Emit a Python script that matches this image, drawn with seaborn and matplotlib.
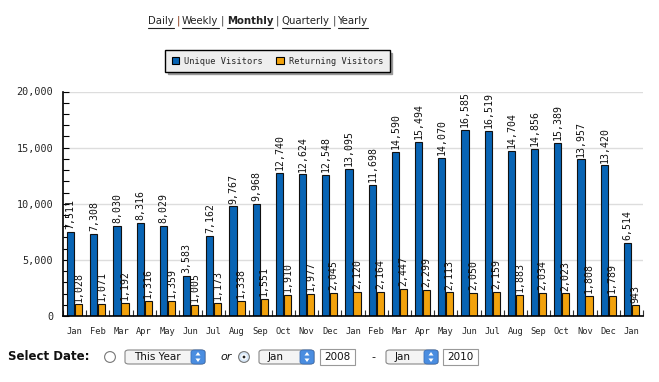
import matplotlib
matplotlib.use("Agg")
import matplotlib.pyplot as plt
import seaborn as sns
import pandas as pd
import numpy as np
from matplotlib.patches import FancyBboxPatch, Rectangle, Circle, Polygon
from matplotlib.lines import Line2D
from matplotlib.ticker import MultipleLocator, FuncFormatter

months = ["Jan", "Feb", "Mar", "Apr", "May", "Jun", "Jul", "Aug", "Sep", "Oct", "Nov", "Dec",
          "Jan", "Feb", "Mar", "Apr", "May", "Jun", "Jul", "Aug", "Sep", "Oct", "Nov", "Dec", "Jan"]
years = [2008] * 12 + [2009] * 12 + [2010]
unique_visitors = [7511, 7308, 8030, 8316, 8029, 3583, 7162, 9767, 9968, 12740, 12624, 12548,
                   13095, 11698, 14590, 15494, 14070, 16585, 16519, 14704, 14856, 15389, 13957, 13420, 6514]
returning_visitors = [1028, 1071, 1192, 1316, 1359, 1005, 1173, 1338, 1551, 1910, 1977, 2045,
                      2120, 2164, 2447, 2299, 2113, 2050, 2159, 1883, 2034, 2023, 1808, 1789, 943]
series_names = ["Unique Visitors", "Returning Visitors"]
colors = ["#0864b4", "#f2a20c"]
links = ["Daily", "Weekly", "Monthly", "Quarterly", "Yearly"]

keys = [f"{m} {y}" for m, y in zip(months, years)]
df = pd.DataFrame({
    "key": keys * 2,
    "value": unique_visitors + returning_visitors,
    "series": [series_names[0]] * len(keys) + [series_names[1]] * len(keys),
})

sns.set_style("white")
plt.rcParams["font.family"] = ["DejaVu Sans"]
mono = "DejaVu Sans Mono"

fig = plt.figure(figsize=(6.59, 3.82), dpi=100)
ax = fig.add_axes([63 / 659, 1 - 316 / 382, 580 / 659, (316 - 91.5) / 382])

sns.barplot(data=df, x="key", y="value", hue="series", order=keys, hue_order=series_names,
            palette=colors, width=0.68, gap=0.08, edgecolor="#111111", linewidth=0.8,
            ax=ax, legend=False, saturation=1)

for cont in ax.containers:
    ax.bar_label(cont, labels=[f"{v:,.0f}" for v in cont.datavalues], rotation=90,
                 padding=2, fontsize=7.1, family=mono, color="#111111")

ax.set_xlim(-0.5, len(keys) - 0.5)
ax.set_ylim(0, 20000)
ax.set_xlabel("")
ax.set_ylabel("")
ax.set_xticks(range(len(keys)))
ax.set_xticklabels(months, family=mono, fontsize=6.3)
ax.set_xticks(np.arange(-0.5, len(keys)), minor=True)
ax.yaxis.set_major_locator(MultipleLocator(5000))
ax.yaxis.set_minor_locator(MultipleLocator(1000))
ax.yaxis.set_major_formatter(FuncFormatter(lambda v, p: f"{v:,.0f}"))
for lab in ax.get_yticklabels():
    lab.set_family(mono)
    lab.set_fontsize(7.3)
ax.tick_params(axis="y", which="both", direction="in", length=4, width=0.8, color="black", pad=7, left=True)
ax.tick_params(axis="x", which="major", length=0, pad=8)
ax.tick_params(axis="x", which="minor", direction="in", length=4, width=0.8, color="#333333", bottom=True)
ax.grid(axis="y", which="major", color="#dddddd", linewidth=1)
ax.set_axisbelow(True)
for s in ["top", "right"]:
    ax.spines[s].set_visible(False)
for s in ["left", "bottom"]:
    ax.spines[s].set_color("black")
    ax.spines[s].set_linewidth(1.2)

# Legend
handles = [Rectangle((0, 0), 1, 1, facecolor=c, edgecolor="black", linewidth=0.8) for c in colors]
leg = fig.legend(handles, series_names, loc="center", bbox_to_anchor=(277.5 / 659, 1 - 61 / 382),
                 ncol=2, prop={"family": mono, "size": 6.2}, frameon=True, fancybox=False,
                 shadow={"color": "#999999", "alpha": 1}, handlelength=0.9, handleheight=1.0,
                 columnspacing=1.5, handletextpad=0.6, borderpad=0.7)
leg.get_frame().set_facecolor("#eeeeee")
leg.get_frame().set_edgecolor("black")
leg.get_frame().set_linewidth(1)

# Top links
fig.canvas.draw()
renderer = fig.canvas.get_renderer()
W, H = 659.0, 382.0
y_link = 1 - 21 / H
x = 148 / W
for i, name in enumerate(links):
    t = fig.text(x, y_link, name, fontsize=7.3, va="center", ha="left",
                 weight="bold" if name == "Monthly" else "normal", color="#222222")
    bb = t.get_window_extent(renderer)
    x0, x1 = bb.x0 / W, bb.x1 / W
    fig.add_artist(Line2D([x0, x1], [y_link - 6.5 / H, y_link - 6.5 / H], color="#222222", linewidth=0.8))
    x = x1
    if i < len(links) - 1:
        t2 = fig.text(x + 2.5 / W, y_link, "|", fontsize=7.3, va="center", ha="left",
                      color="#8b3a1a" if i == 0 else "#444444")
        bb2 = t2.get_window_extent(renderer)
        x = bb2.x1 / W + 2.5 / W

# Bottom controls
yb = 1 - 357 / H
fig.text(8 / W, yb, "Select Date:", fontsize=8.5, weight="bold", va="center", ha="left", color="#111111")


def radio(cx, selected):
    ax_r = fig.add_axes([(cx - 6) / W, yb - 6 / H, 12 / W, 12 / H])
    ax_r.set_xlim(-1, 1)
    ax_r.set_ylim(-1, 1)
    ax_r.axis("off")
    ax_r.add_patch(Circle((0, 0), 0.9, facecolor="white" if not selected else "#d8e8f8",
                          edgecolor="#777777", linewidth=0.8))
    if selected:
        ax_r.add_patch(Circle((0, 0), 0.35, facecolor="#222222"))


def dropdown(x0, x1, label):
    h = 14
    box = FancyBboxPatch((x0 / W, yb - h / 2 / H), (x1 - x0) / W, h / H,
                         boxstyle="round,pad=0,rounding_size=0.006", transform=fig.transFigure,
                         facecolor="#f4f4f4", edgecolor="#888888", linewidth=0.8)
    fig.add_artist(box)
    arrow = FancyBboxPatch(((x1 - 14) / W, yb - h / 2 / H), 14 / W, h / H,
                           boxstyle="round,pad=0,rounding_size=0.006", transform=fig.transFigure,
                           facecolor="#4a8de0", edgecolor="#3a6fb8", linewidth=0.6)
    fig.add_artist(arrow)
    cx = (x1 - 7) / W
    fig.add_artist(Polygon([[cx - 2.5 / W, yb + 1.5 / H], [cx + 2.5 / W, yb + 1.5 / H], [cx, yb + 5 / H]],
                           closed=True, transform=fig.transFigure, facecolor="white", edgecolor="none"))
    fig.add_artist(Polygon([[cx - 2.5 / W, yb - 1.5 / H], [cx + 2.5 / W, yb - 1.5 / H], [cx, yb - 5 / H]],
                           closed=True, transform=fig.transFigure, facecolor="white", edgecolor="none"))
    fig.text((x0 + 9) / W, yb, label, fontsize=7.5, va="center", ha="left", color="#111111")


def textbox(x0, x1, label):
    h = 16
    fig.add_artist(Rectangle((x0 / W, yb - h / 2 / H), (x1 - x0) / W, h / H, transform=fig.transFigure,
                             facecolor="white", edgecolor="#999999", linewidth=0.8))
    fig.text((x0 + 4) / W, yb, label, fontsize=7.5, va="center", ha="left", color="#111111")


radio(110, False)
dropdown(125, 205, "This Year")
fig.text(220 / W, yb, "or", fontsize=8, style="italic", va="center", ha="left", color="#111111")
radio(244, True)
dropdown(259, 314, "Jan")
textbox(320, 355, "2008")
fig.text(373 / W, yb, "-", fontsize=8, va="center", ha="center", color="#111111")
dropdown(386, 438, "Jan")
textbox(443, 478, "2010")

fig.savefig("out.png", dpi=100)
